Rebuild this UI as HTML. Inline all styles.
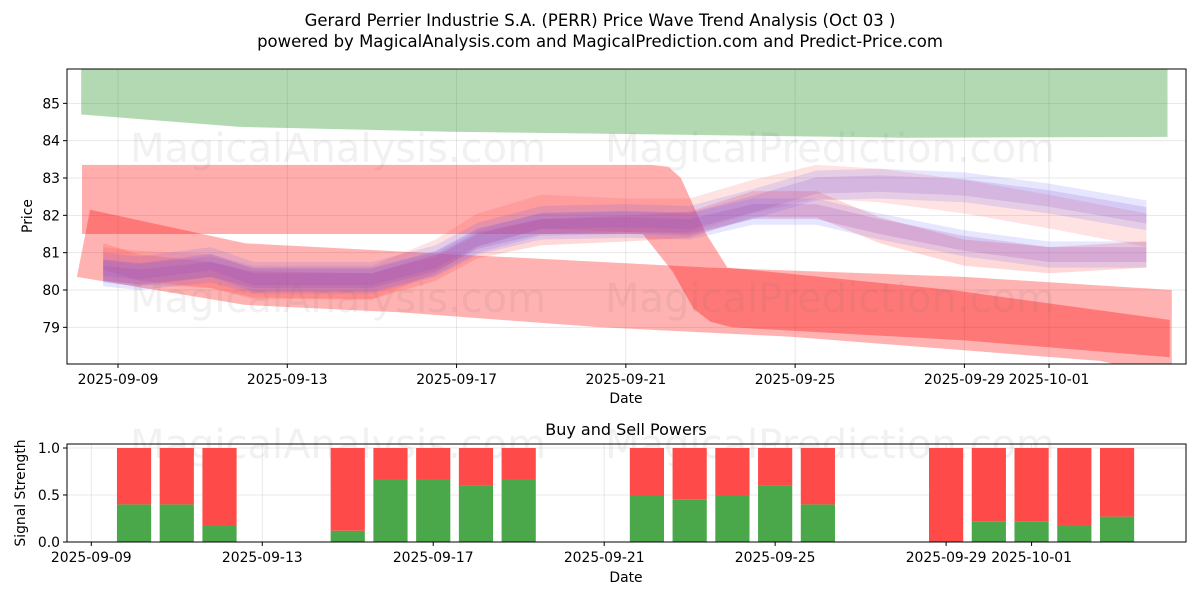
<!DOCTYPE html>
<html><head><meta charset="utf-8"><style>
body{margin:0;background:#fff}
svg text{font-family:"DejaVu Sans","Liberation Sans",sans-serif;fill:#000}
</style></head><body>
<svg id="chart" width="1200" height="600" xmlns="http://www.w3.org/2000/svg">
<defs>
<clipPath id="clipTop"><rect x="67" y="69" width="1119" height="295"/></clipPath>
</defs>
<rect width="1200" height="600" fill="#fff"/>
<text x="600" y="26" text-anchor="middle" font-size="16.5">Gerard Perrier Industrie S.A. (PERR) Price Wave Trend Analysis (Oct 03 )</text>
<text x="600" y="47" text-anchor="middle" font-size="16.5">powered by MagicalAnalysis.com and MagicalPrediction.com and Predict-Price.com</text>
<g id="topGrid"></g>
<g id="bands" clip-path="url(#clipTop)"></g>
<g font-size="40">
<text x="130" y="162" style="fill:rgba(120,120,120,0.1)">MagicalAnalysis.com</text>
<text x="605" y="162" style="fill:rgba(120,120,120,0.1)">MagicalPrediction.com</text>
<text x="130" y="312" style="fill:rgba(120,120,120,0.1)">MagicalAnalysis.com</text>
<text x="605" y="312" style="fill:rgba(120,120,120,0.1)">MagicalPrediction.com</text>
<text x="130" y="458" style="fill:rgba(120,120,120,0.1)">MagicalAnalysis.com</text>
<text x="605" y="458" style="fill:rgba(120,120,120,0.1)">MagicalPrediction.com</text>
</g>
<rect x="67" y="69" width="1119" height="295" fill="none" stroke="#000" stroke-width="1"/>
<g id="topAxes"></g>
<text x="626" y="403" text-anchor="middle" font-size="13.9">Date</text>
<text transform="translate(32,216) rotate(-90)" text-anchor="middle" font-size="13.9">Price</text>
<text x="626" y="435" text-anchor="middle" font-size="16">Buy and Sell Powers</text>
<g id="botGrid"></g>
<g id="bars"></g>
<rect x="67" y="444" width="1119" height="98" fill="none" stroke="#000" stroke-width="1"/>
<g id="botAxes"></g>
<text x="626" y="582" text-anchor="middle" font-size="13.9">Date</text>
<text transform="translate(25,493) rotate(-90)" text-anchor="middle" font-size="13.9">Signal Strength</text>
</svg>
<script>
const xTickDays = [0, 4, 8, 12, 16, 20, 22];
const xTickLabels = ["2025-09-09","2025-09-13","2025-09-17","2025-09-21","2025-09-25","2025-09-29","2025-10-01"];
const yTicks = [79, 80, 81, 82, 83, 84, 85];
const sigTicks = [0, 0.5, 1];
const sigTickLabels = ["0.0","0.5","1.0"];

const greenTopDays = [-0.87, 24.8];
const greenTopVals = [86.5, 86.5];
const greenBotDays = [-0.87, 2.88, 7.85, 18.5, 24.8];
const greenBotVals = [84.7, 84.37, 84.24, 84.08, 84.1];

const bandATopDays = [-0.85, 12.6, 13.0, 13.3, 13.9, 14.4, 19.7, 24.85];
const bandATopVals = [83.35, 83.35, 83.3, 83.0, 81.5, 80.6, 80.0, 79.2];
const bandABotDays = [-0.85, 12.4, 13.1, 13.6, 14.0, 14.5, 20, 24.85];
const bandABotVals = [81.5, 81.5, 80.5, 79.5, 79.15, 79.0, 78.65, 78.2];

const bandBTopDays = [-0.66, 3, 8, 14, 20, 24.9];
const bandBTopVals = [82.15, 81.25, 80.95, 80.6, 80.35, 80.0];
const bandBBotDays = [-0.97, 3, 6.7, 11.4, 15.9, 23.2, 24.9];
const bandBBotVals = [80.35, 79.6, 79.4, 79.0, 78.75, 78.1, 77.7];

const waveDays = [-0.35, 0.5, 2.2, 3.2, 6, 7.5, 8.5, 10, 12, 13.5, 15, 16.5, 18, 20, 22, 24.3];
const waveLower = [80.45, 80.35, 80.55, 80.25, 80.25, 80.7, 81.3, 81.7, 81.75, 81.7, 82.1, 82.1, 81.7, 81.25, 80.95, 80.95];
const waveUpper = [80.6, 80.5, 80.75, 80.35, 80.35, 80.8, 81.4, 81.85, 81.9, 81.85, 82.3, 82.8, 82.85, 82.75, 82.45, 82.0];
const waveRed = [80.7, 80.6, 80.5, 80.2, 80.2, 80.9, 81.6, 82.1, 82.0, 82.0, 82.5, 82.9, 82.8, 82.5, 82.1, 81.6];
const waveRedLow = [80.9, 80.6, 80.4, 80.15, 80.1, 80.6, 81.2, 81.55, 81.65, 81.75, 82.3, 82.3, 81.6, 81.0, 80.8, 80.95];

const barDays = [1, 2, 3, 6, 7, 8, 9, 10, 13, 14, 15, 16, 17, 20, 21, 22, 23, 24];
const buyVals = [0.4, 0.4, 0.17, 0.12, 0.67, 0.67, 0.6, 0.67, 0.5, 0.45, 0.5, 0.6, 0.4, 0.0, 0.22, 0.22, 0.17, 0.27];
const totalVals = [1, 1, 1, 1, 1, 1, 1, 1, 1, 1, 1, 1, 1, 1, 1, 1, 1, 1];

const NS = "http://www.w3.org/2000/svg";
const xs = d => 118 + d * 42.32;
const xb = d => 91.3 + d * 42.74;
const ys = v => 290 - (v - 80) * 37.33;
const ysb = v => 542 - v * 94;
function mk(tag, attrs, parent) {
  const e = document.createElementNS(NS, tag);
  for (const k in attrs) e.setAttribute(k, attrs[k]);
  parent.appendChild(e);
  return e;
}
const g = id => document.getElementById(id);

xTickDays.forEach((d, i) => {
  const x = xs(d);
  const gl = mk("line", {x1:x, x2:x, y1:69, y2:364, stroke:"#b0b0b0", "stroke-opacity":0.35, "stroke-width":0.8}, g("topGrid"));
  
  
  const t = mk("line", {x1:x, x2:x, y1:364, y2:368, stroke:"#000"}, g("topAxes"));
  
  
  const lb = mk("text", {x:x, y:384, "text-anchor":"middle", "font-size":13.9}, g("topAxes"));
  lb.textContent = xTickLabels[i];
  
  
  const xx = xb(d);
  const gl2 = mk("line", {x1:xx, x2:xx, y1:444, y2:542, stroke:"#b0b0b0", "stroke-opacity":0.35, "stroke-width":0.8}, g("botGrid"));
  
  
  const t2 = mk("line", {x1:xx, x2:xx, y1:542, y2:546, stroke:"#000"}, g("botAxes"));
  
  
  const lb2 = mk("text", {x:xx, y:562, "text-anchor":"middle", "font-size":13.9}, g("botAxes"));
  lb2.textContent = xTickLabels[i];
  
  
});
yTicks.forEach(v => {
  const y = ys(v);
  const gl = mk("line", {x1:67, x2:1186, y1:y, y2:y, stroke:"#b0b0b0", "stroke-opacity":0.35, "stroke-width":0.8}, g("topGrid"));
  
  
  const t = mk("line", {x1:63, x2:67, y1:y, y2:y, stroke:"#000"}, g("topAxes"));
  
  
  const lb = mk("text", {x:60, y:y+5, "text-anchor":"end", "font-size":13.9}, g("topAxes"));
  lb.textContent = v;
  
  
});
sigTicks.forEach((v, i) => {
  const y = ysb(v);
  const gl = mk("line", {x1:67, x2:1186, y1:y, y2:y, stroke:"#b0b0b0", "stroke-opacity":0.35, "stroke-width":0.8}, g("botGrid"));
  
  
  const t = mk("line", {x1:63, x2:67, y1:y, y2:y, stroke:"#000"}, g("botAxes"));
  
  
  const lb = mk("text", {x:60, y:y+5, "text-anchor":"end", "font-size":13.9}, g("botAxes"));
  lb.textContent = sigTickLabels[i];
  
  
});

function polyBand(tDays, tVals, bDays, bVals, fill, name) {
  const pts = [];
  tDays.forEach((d, i) => pts.push(xs(d).toFixed(1) + "," + ys(tVals[i]).toFixed(1)));
  for (let i = bDays.length - 1; i >= 0; i--) pts.push(xs(bDays[i]).toFixed(1) + "," + ys(bVals[i]).toFixed(1));
  const p = mk("polygon", {points: pts.join(" "), fill: fill}, g("bands"));
  
  
}
function waveBand(days, mids, half, fill, name) {
  const top = mids.map(v => v + half);
  const bot = mids.map(v => v - half);
  polyBand(days, top, days, bot, fill, name);
}

polyBand(greenTopDays, greenTopVals, greenBotDays, greenBotVals, "rgba(0,128,0,0.3)", "green-band");
polyBand(bandATopDays, bandATopVals, bandABotDays, bandABotVals, "rgba(255,0,0,0.32)", "red-band-drop");
polyBand(bandBTopDays, bandBTopVals, bandBBotDays, bandBBotVals, "rgba(255,0,0,0.3)", "red-band-lower");
waveBand(waveDays, waveRed, 0.45, "rgba(255,60,60,0.15)", "red-wave-band");
waveBand(waveDays, waveRedLow, 0.35, "rgba(255,60,60,0.2)", "red-wave-band-low");
waveBand(waveDays, waveUpper, 0.4, "rgba(90,90,255,0.15)", "blue-wave-band-upper");
waveBand(waveDays, waveUpper, 0.22, "rgba(140,80,200,0.18)", "purple-wave-band-upper");
waveBand(waveDays, waveLower, 0.35, "rgba(90,90,255,0.15)", "blue-wave-band-lower");
waveBand(waveDays, waveLower, 0.2, "rgba(150,70,180,0.2)", "purple-wave-band-lower");

barDays.forEach((d, i) => {
  const w = 0.8 * 42.74, x0 = xb(d) - w / 2;
  const gr = mk("rect", {x:x0, y:ysb(buyVals[i]), width:w, height:ysb(0)-ysb(buyVals[i]), fill:"#4aa84a"}, g("bars"));
  
  
  const rd = mk("rect", {x:x0, y:ysb(totalVals[i]), width:w, height:ysb(buyVals[i])-ysb(totalVals[i]), fill:"#ff4a4a"}, g("bars"));
  
  
});
</script>
</body></html>
